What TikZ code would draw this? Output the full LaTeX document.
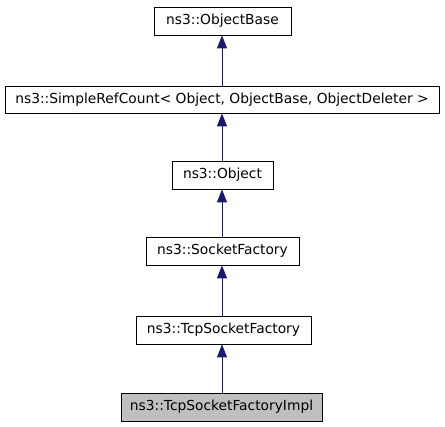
\documentclass[tikz,border=0pt]{standalone}
\usepackage{fontspec}
\setmainfont{DejaVu Sans}
\usetikzlibrary{arrows.meta}
\definecolor{edgecol}{HTML}{191970}
\begin{document}
\begin{tikzpicture}[x=1pt,y=-1pt,
  cls/.style={draw=black,line width=0.8pt,fill=white,inner sep=0pt,font=\fontsize{13.8}{16}\selectfont},
  inh/.style={draw=edgecol,line width=0.8pt,{Triangle[length=13pt,width=10pt,fill=edgecol]}-}]
\useasboundingbox (0,0) rectangle (445,427);
\node[cls,minimum width=137pt,minimum height=28pt] (ob) at (222.5,21) {ns3::ObjectBase};
\node[cls,minimum width=434pt,minimum height=27pt] (src) at (222,99.5) {ns3::SimpleRefCount< Object, ObjectBase, ObjectDeleter >};
\node[cls,minimum width=101pt,minimum height=28pt] (o) at (222.5,175) {ns3::Object};
\node[cls,minimum width=153pt,minimum height=28pt] (sf) at (222.5,251) {ns3::SocketFactory};
\node[cls,minimum width=175pt,minimum height=28pt] (tsf) at (223.5,330) {ns3::TcpSocketFactory};
\node[cls,fill=black!25,minimum width=201pt,minimum height=28pt] (impl) at (221.5,407) {ns3::TcpSocketFactoryImpl};
\draw[inh] (ob.south -| 222,0) -- (src.north -| 222,0);
\draw[inh] (src.south -| 222,0) -- (o.north -| 222,0);
\draw[inh] (o.south -| 222,0) -- (sf.north -| 222,0);
\draw[inh] (sf.south -| 222,0) -- (tsf.north -| 222,0);
\draw[inh] (tsf.south -| 222,0) -- (impl.north -| 222,0);
\end{tikzpicture}
\end{document}
